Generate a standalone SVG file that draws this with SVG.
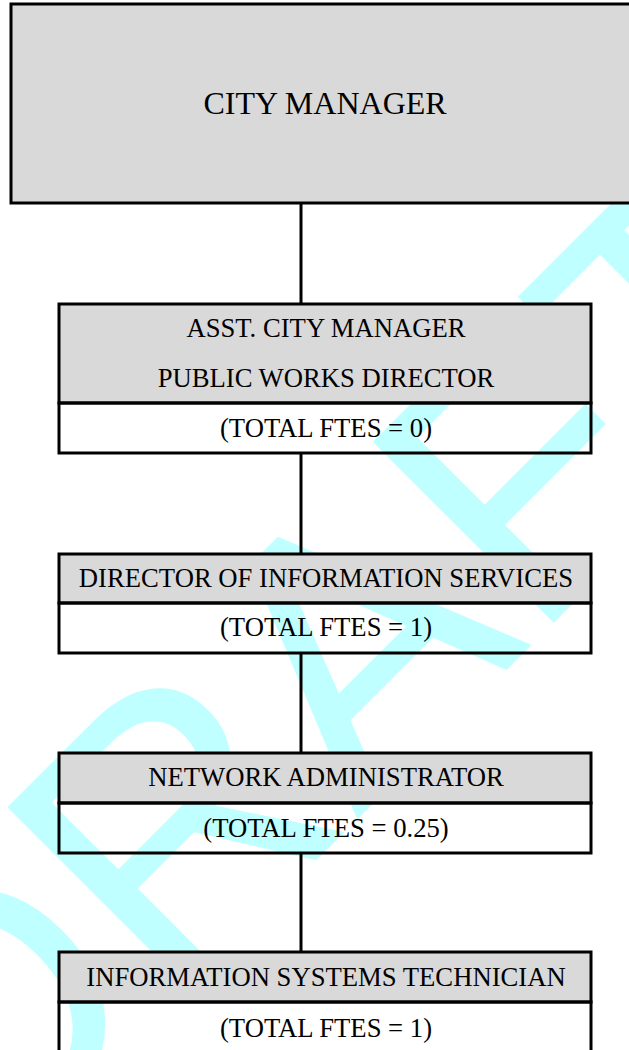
<svg xmlns="http://www.w3.org/2000/svg" width="629" height="1050" viewBox="0 0 629 1050">
<style>
.head{fill:#d9d9d9;stroke:#000;stroke-width:3}
.cell{fill:none;stroke:#000;stroke-width:3}
.t{font-family:"Liberation Serif","Times New Roman",serif;font-size:26.67px;fill:#000;text-anchor:middle}
.big{font-size:32px}
.conn{stroke:#000;stroke-width:3;fill:none}
.wm{font-family:"Liberation Sans",Arial,sans-serif;font-size:372px;fill:#c0ffff}
</style>
<rect x="0" y="0" width="629" height="1050" fill="#fff"/>
<text class="wm" transform="translate(-23.2,1199.8) rotate(-45)">DRAFT</text>
<g id="connectors">
<line class="conn" x1="301" y1="203" x2="301" y2="304"/>
<line class="conn" x1="301" y1="453" x2="301" y2="554"/>
<line class="conn" x1="301" y1="653" x2="301" y2="753"/>
<line class="conn" x1="301" y1="853" x2="301" y2="952"/>
</g>
<g id="city-manager">
<rect class="head" x="11" y="4" width="640" height="199"/>
<text class="t big" x="325" y="114">CITY MANAGER</text>
</g>
<g id="asst-city-manager">
<rect class="head" x="59" y="304" width="532" height="99"/>
<rect class="cell" x="59" y="403" width="532" height="50"/>
<text class="t" x="326" y="337">ASST. CITY MANAGER</text>
<text class="t" x="326" y="387">PUBLIC WORKS DIRECTOR</text>
<text class="t" x="326" y="437">(TOTAL FTES = 0)</text>
</g>
<g id="director-is">
<rect class="head" x="59" y="554" width="532" height="49"/>
<rect class="cell" x="59" y="603" width="532" height="50"/>
<text class="t" x="326" y="587">DIRECTOR OF INFORMATION SERVICES</text>
<text class="t" x="326" y="636">(TOTAL FTES = 1)</text>
</g>
<g id="network-admin">
<rect class="head" x="59" y="753" width="532" height="50"/>
<rect class="cell" x="59" y="803" width="532" height="50"/>
<text class="t" x="326" y="786">NETWORK ADMINISTRATOR</text>
<text class="t" x="326" y="837">(TOTAL FTES = 0.25)</text>
</g>
<g id="is-technician">
<rect class="head" x="59" y="952" width="532" height="50"/>
<rect class="cell" x="59" y="1002" width="532" height="60"/>
<text class="t" x="326" y="986">INFORMATION SYSTEMS TECHNICIAN</text>
<text class="t" x="326" y="1037">(TOTAL FTES = 1)</text>
</g>
</svg>
